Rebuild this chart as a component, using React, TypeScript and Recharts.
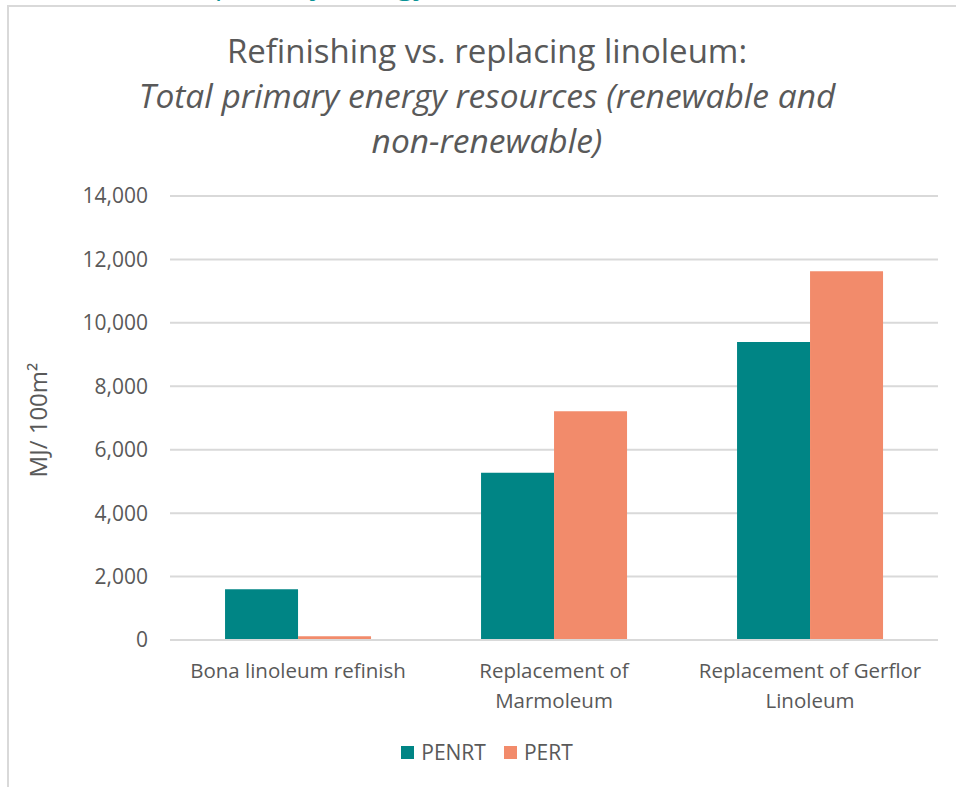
import React from "react";
import { BarChart, Bar, XAxis, YAxis, CartesianGrid } from "recharts";

const categories = ["Bona linoleum refinish", "Replacement of Marmoleum", "Replacement of Gerflor Linoleum"];
const categoryLines = [["Bona linoleum refinish"], ["Replacement of", "Marmoleum"], ["Replacement of Gerflor", "Linoleum"]];
const penrt = [1600, 5270, 9400];
const pert = [120, 7210, 11630];
const yTicks = [0, 2000, 4000, 6000, 8000, 10000, 12000, 14000];

const data = categories.map((c, i) => ({ name: c, PENRT: penrt[i], PERT: pert[i] }));

const TEAL = "#008585";
const SALMON = "#F28B6B";
const TEXT = "#595959";
const FONT = "'Open Sans', sans-serif";

const CatTick = (props: any) => {
  const { x, y, payload } = props;
  const idx = categories.indexOf(payload.value);
  const lines = idx >= 0 ? categoryLines[idx] : [payload.value];
  return (
    <g transform={`translate(${x},${y})`}>
      {lines.map((l: string, i: number) => (
        <text key={i} x={0} y={0} dy={30 + i * 30} textAnchor="middle" fill={TEXT} fontSize={20.5} fontFamily={FONT}>
          {l}
        </text>
      ))}
    </g>
  );
};

export default function App() {
  return (
    <div style={{ position: "absolute", left: 0, top: 0, width: 956, height: 787, background: "#fff", overflow: "hidden", fontFamily: FONT }}>
      <div style={{ position: "absolute", left: 206, top: -37, fontSize: 30, color: "#0a9396", whiteSpace: "nowrap", lineHeight: "40px" }}>
        (primary energy)
      </div>
      <div style={{ position: "absolute", left: 7, top: 5, width: 1000, height: 800, border: "2px solid #d9d9d9", boxSizing: "border-box", background: "transparent" }} />
      <div style={{ position: "absolute", left: 0, top: 0 }}>
        <BarChart
          width={956}
          height={787}
          data={data}
          margin={{ top: 196, right: 18, bottom: 57, left: 0 }}
          barCategoryGap="21.5%"
          barGap={0}
        >
          <CartesianGrid vertical={false} stroke="#d9d9d9" strokeWidth={2} />
          <XAxis
            dataKey="name"
            axisLine={{ stroke: "#d9d9d9", strokeWidth: 2 }}
            tickLine={false}
            tick={<CatTick />}
            height={90}
            interval={0}
          />
          <YAxis
            width={170}
            domain={[0, 14000]}
            ticks={yTicks}
            axisLine={false}
            tickLine={false}
            tickSize={0}
            tickMargin={22}
            tickFormatter={(v: number) => v.toLocaleString("en-US")}
            tick={{ fill: TEXT, fontSize: 21, fontFamily: FONT }}
          />
          <Bar dataKey="PENRT" fill={TEAL} isAnimationActive={false} />
          <Bar dataKey="PERT" fill={SALMON} isAnimationActive={false} />
        </BarChart>
      </div>
      <div style={{ position: "absolute", left: 0, width: 974, top: 28, textAlign: "center", color: TEXT, fontSize: 33, lineHeight: "45px" }}>
        <div>Refinishing vs. replacing linoleum:</div>
        <div style={{ fontStyle: "italic", fontSize: 33.5 }}>Total primary energy resources (renewable and</div>
        <div style={{ fontStyle: "italic", fontSize: 33.5 }}>non-renewable)</div>
      </div>
      <div style={{ position: "absolute", left: 37, top: 420, transform: "translate(-50%, -50%) rotate(-90deg)", color: TEXT, fontSize: 24, whiteSpace: "nowrap" }}>
        MJ/ 100m²
      </div>
      <div style={{ position: "absolute", left: 0, width: 974, top: 738, display: "flex", justifyContent: "center", color: TEXT, fontSize: 21 }}>
        <div style={{ display: "flex", alignItems: "center", marginRight: 18 }}>
          <span style={{ width: 13, height: 13, background: TEAL, display: "inline-block", marginRight: 7 }} />
          PENRT
        </div>
        <div style={{ display: "flex", alignItems: "center" }}>
          <span style={{ width: 13, height: 13, background: SALMON, display: "inline-block", marginRight: 7 }} />
          PERT
        </div>
      </div>
    </div>
  );
}
